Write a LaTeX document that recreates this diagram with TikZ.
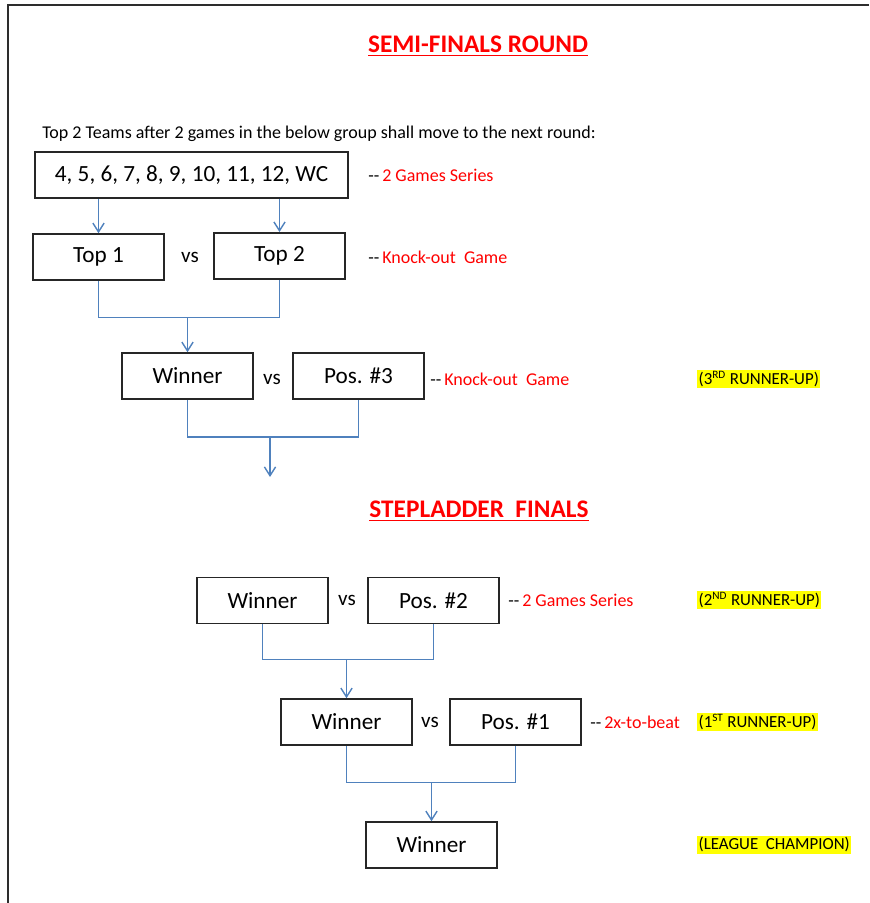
\documentclass[tikz,border=0pt]{standalone}
\usepackage{fontspec}
\setmainfont{Carlito}
\usepackage{xcolor}
\usepackage{tikz}
\usetikzlibrary{positioning, calc, arrows.meta}
\definecolor{slBlue}{RGB}{79, 129, 189}
\definecolor{slRed}{RGB}{255, 0, 0}
\definecolor{slMark}{RGB}{255, 255, 0}
\definecolor{slFrame}{RGB}{45, 45, 45}
\tikzset{
    team/.style={
        rectangle,
        draw=black!85,
        line width=1.1pt,
        fill=white,
        minimum width=3.275cm,
        minimum height=1.15cm,
        font=\fontsize{16.5}{19}\selectfont
    },
    versus/.style={
        font=\fontsize{15}{18}\selectfont
    },
    note/.style={
        anchor=west,
        inner sep=0pt,
        font=\fontsize{12.8}{15}\selectfont
    },
    rankbox/.style={
        note,
        fill=slMark,
        inner sep=1pt,
        font=\fontsize{12}{14}\selectfont
    },
    heading/.style={
        font=\fontsize{18}{21}\selectfont\bfseries,
        text=slRed
    },
    link/.style={
        draw=slBlue,
        line width=1pt
    },
    flow/.style={
        link,
        -{Straight Barb[length=2.2mm, width=2.8mm]}
    }
}

\begin{document}
\begin{tikzpicture}
  \useasboundingbox (0,0) rectangle (21.725,22.575);
  % Page frame
  \draw[slFrame, line width=1.6pt] (21.725,22.45) -- (0.2,22.45) -- (0.2,0);

  % Semi-finals round
  \node[heading] (semiTitle) at (11.95,21.425) {\underline{SEMI-FINALS ROUND}};
  \node[note] (intro) at (1.05,19.225) {Top 2 Teams after 2 games in the below group shall move to the next round:};

  \node[team, minimum width=7.825cm] (group) at (4.7875,18.2) {4, 5, 6, 7, 8, 9, 10, 11, 12, WC};
  \node[note] (groupNote) at (9.2,18.2) {-{}-\,\textcolor{slRed}{2 Games Series}};

  \node[team] (top1) at (2.4625,16.15) {Top 1};
  \node[versus] (vs1) at (4.75,16.15) {vs};
  \node[team] (top2) at (6.9875,16.18) {Top 2};
  \node[note] (topNote) at (9.2,16.15) {-{}-\,\textcolor{slRed}{Knock-out~ Game}};

  \node[team] (win1) at (4.6875,13.175) {Winner};
  \node[versus] (vs2) at (6.8,13.1) {vs};
  \node[team] (pos3) at (8.9625,13.175) {Pos. \#3};
  \node[note] (pos3Note) at (10.75,13.1) {-{}-\,\textcolor{slRed}{Knock-out~ Game}};
  \node[rankbox] (rank3) at (17.425,13.1) {(3\textsuperscript{RD} RUNNER-UP)};

  \draw[flow] (group.south -| top1.north) -- (top1.north);
  \draw[flow] (group.south -| top2.north) -- (top2.north);
  \coordinate (j1) at ($(win1.north)+(0,0.875)$);
  \draw[link] (top1.south) |- (j1) -| (top2.south);
  \draw[flow] (j1) -- (win1.north);
  \coordinate (j2) at (6.75,11.65);
  \coordinate (semiOut) at (6.75,10.65);
  \draw[link] (win1.south) |- (j2) -| (pos3.south);
  \draw[flow] (j2) -- (semiOut);

  % Stepladder finals
  \node[heading] (stepTitle) at (11.975,9.8) {\underline{STEPLADDER~ FINALS}};

  \node[team] (win2) at (6.5625,7.56) {Winner};
  \node[versus] (vs3) at (8.675,7.575) {vs};
  \node[team] (pos2) at (10.8375,7.56) {Pos. \#2};
  \node[note] (pos2Note) at (12.7,7.575) {-{}-\,\textcolor{slRed}{2 Games Series}};
  \node[rankbox] (rank2) at (17.425,7.575) {(2\textsuperscript{ND} RUNNER-UP)};

  \node[team] (win3) at (8.6625,4.525) {Winner};
  \node[versus] (vs4) at (10.75,4.525) {vs};
  \node[team] (pos1) at (12.8875,4.525) {Pos. \#1};
  \node[note] (pos1Note) at (14.75,4.525) {-{}-\,\textcolor{slRed}{2x-to-beat}};
  \node[rankbox] (rank1) at (17.425,4.525) {(1\textsuperscript{ST} RUNNER-UP)};

  \node[team] (champ) at (10.7875,1.45) {Winner};
  \node[rankbox] (rank0) at (17.425,1.45) {(LEAGUE~ CHAMPION)};

  \coordinate (j3) at ($(win3.north)+(0,0.975)$);
  \draw[link] (win2.south) |- (j3) -| (pos2.south);
  \draw[flow] (j3) -- (win3.north);
  \coordinate (j4) at ($(champ.north)+(0,0.975)$);
  \draw[link] (win3.south) |- (j4) -| (pos1.south);
  \draw[flow] (j4) -- (champ.north);
\end{tikzpicture}
\end{document}
